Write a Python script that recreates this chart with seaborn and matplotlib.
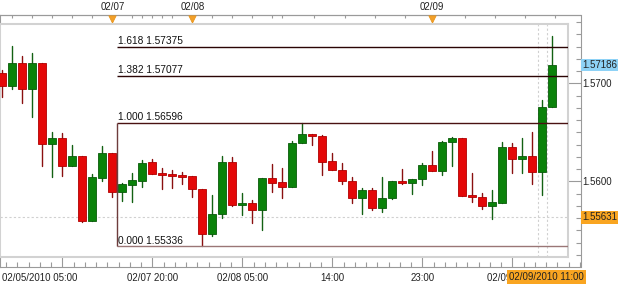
import numpy as np
import pandas as pd
import matplotlib
matplotlib.use("Agg")
import matplotlib.pyplot as plt
import matplotlib.transforms as mtransforms
import seaborn as sns

# ---------------- data (hourly EUR/USD-style candles) ----------------
opens = [1.57102, 1.56976, 1.57204, 1.56939, 1.57204, 1.56381, 1.56439, 1.56159,
         1.56261, 1.55595, 1.56037, 1.56292, 1.55894, 1.55962, 1.56003, 1.56194,
         1.56088, 1.56074, 1.56064, 1.56054, 1.55924, 1.55459, 1.55666, 1.56194,
         1.55755, 1.55782, 1.55707, 1.56031, 1.55993, 1.55939, 1.56388, 1.56486,
         1.56462, 1.56207, 1.56115, 1.56006, 1.55833, 1.55911, 1.55731, 1.55827,
         1.56006, 1.55980, 1.56020, 1.56166, 1.56105, 1.56398, 1.56439, 1.55860,
         1.55843, 1.55751, 1.55776, 1.56347, 1.56228, 1.56258, 1.56092, 1.56755]
highs = [1.57136, 1.57381, 1.57279, 1.57312, 1.57204, 1.56506, 1.56490, 1.56370,
         1.56261, 1.56074, 1.56360, 1.56292, 1.55980, 1.56082, 1.56217, 1.56224,
         1.56139, 1.56115, 1.56098, 1.56054, 1.55924, 1.55860, 1.56258, 1.56251,
         1.55878, 1.55809, 1.56031, 1.56173, 1.56133, 1.56411, 1.56596, 1.56486,
         1.56473, 1.56286, 1.56184, 1.56047, 1.55935, 1.55929, 1.56047, 1.56006,
         1.56122, 1.56023, 1.56184, 1.56309, 1.56414, 1.56455, 1.56439, 1.56082,
         1.55878, 1.55911, 1.56398, 1.56388, 1.56445, 1.56500, 1.56830, 1.57483]
lows = [1.56857, 1.56939, 1.56796, 1.56659, 1.56156, 1.56047, 1.56057, 1.56159,
        1.55588, 1.55595, 1.56006, 1.55843, 1.55794, 1.55792, 1.55945, 1.56074,
        1.55918, 1.55929, 1.55969, 1.55843, 1.55336, 1.55442, 1.55622, 1.55748,
        1.55656, 1.55571, 1.55503, 1.55894, 1.55827, 1.55939, 1.56388, 1.56370,
        1.56064, 1.56115, 1.55969, 1.55776, 1.55663, 1.55707, 1.55690, 1.55819,
        1.55969, 1.55867, 1.55962, 1.56105, 1.56064, 1.56159, 1.55853, 1.55792,
        1.55717, 1.55615, 1.55776, 1.56082, 1.56088, 1.55969, 1.55860, 1.56755]
closes = [1.56976, 1.57204, 1.56939, 1.57204, 1.56381, 1.56439, 1.56159, 1.56261,
          1.55595, 1.56041, 1.56292, 1.55888, 1.55969, 1.56013, 1.56190, 1.56074,
          1.56067, 1.56057, 1.56047, 1.55924, 1.55459, 1.55666, 1.56194, 1.55755,
          1.55782, 1.55707, 1.56031, 1.55986, 1.55939, 1.56394, 1.56483, 1.56459,
          1.56200, 1.56115, 1.56003, 1.55833, 1.55911, 1.55724, 1.55827, 1.56006,
          1.55980, 1.56023, 1.56166, 1.56105, 1.56398, 1.56439, 1.55853, 1.55843,
          1.55751, 1.55786, 1.56347, 1.56224, 1.56258, 1.56092, 1.56761, 1.57186]

fib_ratios = ["1.618", "1.382", "1.000", "0.000"]
fib_prices = [1.57375, 1.57077, 1.56596, 1.55336]
fib_start_bar = 11.52

bottom_tick_bars = [6, 15, 24, 33, 42, 51]
bottom_tick_labels = ["02/05/2010 05:00", "02/07 20:00", "02/08 05:00",
                      "14:00", "23:00", "02/09 08:00"]
day_marker_bars = [11, 19, 43]
day_marker_labels = ["02/07", "02/08", "02/09"]
top_tick_bars = [1, 3, 5, 7, 9, 11, 13, 14, 15, 16, 17, 19, 21, 23, 25, 27, 28,
                 31.2, 34.25, 37.25, 40.25, 43.1, 46.25, 49.25, 52.25, 55.25]
price_ticks = [1.5600, 1.5700]
price_tick_labels = ["1.5600", "1.5700"]
last_price = 1.57186
cursor_price = 1.55631
cursor_bar = 54
cursor_label = "02/09/2010 11:00"

# ---------------- styling / layout ----------------
sns.set_theme(style="white")
plt.rcParams["font.family"] = ["Liberation Sans", "DejaVu Sans"]

W, H = 625, 287
PX_PER_BAR = 10.0
X0_PX = 2.3
PX_PER_UNIT = 9800.0
Y_REF_PX, Y_REF = 181.3, 1.56


def xdat(px):
    return (px - X0_PX) / PX_PER_BAR


def ydat(py):
    return Y_REF + (Y_REF_PX - py) / PX_PER_UNIT


inner = (0, 24, 568, 256.5)    # left, top, right, bottom (px)
outer = (0, 15, 580.5, 267)


def rect(b):
    l, t, r, bt = b
    return [l / W, 1 - bt / H, (r - l) / W, (bt - t) / H]


UP, DN = "#0a820a", "#e40808"
UP_EDGE, DN_EDGE = "#0a5a0a", "#b00000"
WICK_UP, WICK_DN = "#136113", "#8a1010"
TXT = "#222222"
AXC = "#9a9a9a"
FS = 7

fig = plt.figure(figsize=(W / 100, H / 100), dpi=100)
fig.patch.set_facecolor("white")

# outer axes: scales / ticks
ax_o = fig.add_axes(rect(outer))
ax_o.set_facecolor("white")
ax_o.set_xlim(xdat(outer[0]), xdat(outer[2]))
ax_o.set_ylim(ydat(outer[3]), ydat(outer[1]))
for s in ax_o.spines.values():
    s.set_color(AXC)
    s.set_linewidth(0.8)

# bottom axis
ax_o.set_xticks(bottom_tick_bars)
ax_o.set_xticklabels([""] + bottom_tick_labels[1:])
minor_x = []
for m in bottom_tick_bars:
    minor_x += [m + k * 1.125 for k in range(1, 8)]
minor_x += [bottom_tick_bars[0] - k * 1.125 for k in range(1, 6)]
ax_o.set_xticks([v for v in minor_x if v < xdat(outer[2])], minor=True)
ax_o.tick_params(axis="x", which="major", direction="in", length=7.2, width=0.8,
                 color=AXC, labelsize=FS, labelcolor=TXT, pad=4.2,
                 bottom=True, top=False)
ax_o.tick_params(axis="x", which="minor", direction="in", length=3.6, width=0.8,
                 color=AXC, bottom=True, top=False)
ax_o.text(0.004, 0, bottom_tick_labels[0], ha="left", va="top", fontsize=FS,
          color=TXT,
          transform=mtransforms.offset_copy(ax_o.transAxes, fig=fig, y=-6, units="dots"))

# right axis
ax_o.yaxis.tick_right()
ax_o.set_yticks(price_ticks)
ax_o.set_yticklabels(price_tick_labels)
ax_o.yaxis.set_minor_locator(matplotlib.ticker.MultipleLocator(0.00125))
ax_o.tick_params(axis="y", which="major", direction="in", length=9.4, width=0.8,
                 color=AXC, labelsize=FS, labelcolor=TXT, pad=1.5,
                 left=False, right=True)
ax_o.tick_params(axis="y", which="minor", direction="in", length=3.6, width=0.8,
                 color=AXC, left=False, right=True)
ax_o.grid(False)

# top axis
sec = ax_o.secondary_xaxis("top")
sec.set_xticks(top_tick_bars)
sec.set_xticklabels([])
sec.tick_params(axis="x", direction="in", length=2.4, width=0.8, color=AXC)
sec.spines["top"].set_color(AXC)
sec.spines["top"].set_linewidth(0.8)

top_tr = mtransforms.blended_transform_factory(ax_o.transData, ax_o.transAxes)
for b, lab in zip(day_marker_bars, day_marker_labels):
    ax_o.text(b, 1, lab, ha="center", va="baseline", fontsize=FS, color=TXT,
              transform=mtransforms.offset_copy(top_tr, fig=fig, y=5, units="dots"))
sns.scatterplot(x=day_marker_bars, y=[1.0] * len(day_marker_bars), marker="v",
                s=28, color="#f2a02a", edgecolor="#e89010", linewidth=0.5,
                transform=mtransforms.offset_copy(top_tr, fig=fig, y=-3.5, units="dots"),
                clip_on=False, zorder=5, ax=ax_o, legend=False)

# price tags
tag_tr = mtransforms.blended_transform_factory(ax_o.transAxes, ax_o.transData)
ax_o.text(1.0, last_price, last_price and f"{last_price:.5f}", ha="left", va="center",
          fontsize=FS, color=TXT, zorder=6,
          transform=mtransforms.offset_copy(tag_tr, fig=fig, x=1.5, units="dots"),
          bbox=dict(boxstyle="square,pad=0.12", fc="#8ed2f6", ec="none"))
ax_o.text(1.0, cursor_price, f"{cursor_price:.5f}", ha="left", va="center",
          fontsize=FS, color=TXT, zorder=6,
          transform=mtransforms.offset_copy(tag_tr, fig=fig, x=1.5, units="dots"),
          bbox=dict(boxstyle="square,pad=0.12", fc="#f9a521", ec="none"))
ax_o.text(xdat(546.5), 0, cursor_label, ha="center", va="center", fontsize=FS,
          color=TXT, zorder=6,
          transform=mtransforms.offset_copy(top_tr, fig=fig, y=-10, units="dots"),
          bbox=dict(boxstyle="square,pad=0.2", fc="#f9a521", ec="none"))

# inner plotting axes
ax = fig.add_axes(rect(inner))
ax.set_facecolor("white")
for s in ax.spines.values():
    s.set_color("#d2d2d2")
    s.set_linewidth(1.5)

o = np.array(opens)
c = np.array(closes)
hi = np.array(highs)
lo = np.array(lows)
idx = np.arange(len(o))
up = c >= o

wick_df = pd.DataFrame({
    "bar": np.repeat(idx, 2),
    "price": np.column_stack([lo, hi]).ravel(),
    "dir": np.repeat(np.where(up, "up", "down"), 2),
})
sns.lineplot(data=wick_df, x="bar", y="price", units="bar", estimator=None,
             hue="dir", palette={"up": WICK_UP, "down": WICK_DN}, sort=False,
             linewidth=1.0, legend=False, ax=ax, zorder=2)

body_lo = np.minimum(o, c)
body_h = np.maximum(np.abs(c - o), 0.00018)
ax.bar(idx[up], body_h[up], bottom=body_lo[up], width=0.8, color=UP,
       edgecolor=UP_EDGE, linewidth=0.6, zorder=3)
ax.bar(idx[~up], body_h[~up], bottom=body_lo[~up], width=0.8, color=DN,
       edgecolor=DN_EDGE, linewidth=0.6, zorder=3)

x_left, x_right = xdat(inner[0]), xdat(inner[2])
ax.set_xlim(x_left, x_right)
ax.set_ylim(ydat(inner[3]), ydat(inner[1]))

# cursor cross-hair
ax.axhline(cursor_price, color="#d0d0d0", lw=0.8, ls=(0, (2, 2)), zorder=1)
for dx in (-0.43, 0.43):
    ax.axvline(cursor_bar + dx, color="#d0d0d0", lw=0.8, ls=(0, (2, 2)), zorder=1)

# Fibonacci levels
fib_colors = ["#2a0404", "#2a0404", "#4a1212", "#9a7676"]
for r, p, col in zip(fib_ratios, fib_prices, fib_colors):
    ax.hlines(p, fib_start_bar, x_right, color=col, lw=1.0, zorder=4)
    ax.text(fib_start_bar + 0.03, p, f"{r} {p:.5f}", ha="left", va="baseline",
            fontsize=7.3, color="#111111", zorder=5,
            transform=mtransforms.offset_copy(ax.transData, fig=fig, y=2.5, units="dots"))
ax.vlines(fib_start_bar, fib_prices[3], fib_prices[2], color="#6e3c3c", lw=1.0, zorder=4)

ax.set_xticks([])
ax.set_yticks([])
ax.set_xlabel("")
ax.set_ylabel("")
ax.grid(False)

fig.savefig("out.png", dpi=100)
